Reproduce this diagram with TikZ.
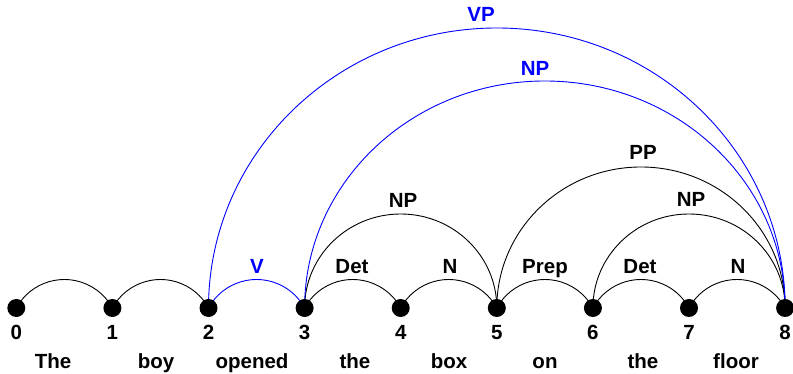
\documentclass[tikz,border=0pt]{standalone}
\usepackage{fontspec}
\setmainfont{Liberation Sans}
\definecolor{arcblue}{RGB}{0,0,255}
\tikzset{
  dotnode/.style={circle, fill=black, inner sep=0pt, minimum size=18pt},
  lbl/.style={font=\fontsize{20.5}{23}\selectfont\bfseries, anchor=base, inner sep=0pt},
  bluelbl/.style={lbl, text=arcblue},
  arcline/.style={draw=black, line width=0.9pt},
  bluearc/.style={draw=arcblue, line width=0.9pt},
  short/.style={start angle=151.35, end angle=28.65, radius=54.76}
}
\begin{document}
\begin{tikzpicture}[x=1pt,y=1pt]
\useasboundingbox (0,0) rectangle (793,374);
% positions
\foreach \i/\x in {0/16.3,1/112.4,2/208.5,3/304.6,4/400.7,5/496.8,6/592.9,7/689.0,8/785.1}
  \coordinate (p\i) at (\x,66);
% short arcs
\draw[arcline] (p0) arc[short];
\draw[arcline] (p1) arc[short];
\draw[bluearc] (p2) arc[short];
\draw[arcline] (p3) arc[short];
\draw[arcline] (p4) arc[short];
\draw[arcline] (p5) arc[short];
\draw[arcline] (p6) arc[short];
\draw[arcline] (p7) arc[short];
% longer arcs
\draw[arcline] (p3) arc[start angle=180, end angle=0, x radius=96.1, y radius=94];
\draw[arcline] (p6) arc[start angle=180, end angle=0, x radius=96.1, y radius=94];
\draw[arcline] (p5) arc[start angle=180, end angle=0, x radius=144.15, y radius=141];
\draw[bluearc] (p3) arc[start angle=180, end angle=0, x radius=240.25, y radius=227];
\draw[bluearc] (p2) arc[start angle=180, end angle=0, x radius=288.3, y radius=280];
% dots and numbers
\foreach \i in {0,...,8} {
  \node[dotnode] (n\i) at (p\i) {};
  \node[lbl] (d\i) at ([yshift=-32pt]p\i) {\i};
}
% words
\node[lbl] (w1) at (53,5) {The};
\node[lbl] (w2) at (156,5) {boy};
\node[lbl] (w3) at (252,5) {opened};
\node[lbl] (w4) at (355,5) {the};
\node[lbl] (w5) at (449,5) {box};
\node[lbl] (w6) at (545,5) {on};
\node[lbl] (w7) at (643,5) {the};
\node[lbl] (w8) at (736,5) {floor};
% arc labels
\node[bluelbl] (lV) at (257,100) {V};
\node[lbl] (lDet1) at (352,100) {Det};
\node[lbl] (lN1) at (450,100) {N};
\node[lbl] (lPrep) at (545,100) {Prep};
\node[lbl] (lDet2) at (640,100) {Det};
\node[lbl] (lN2) at (738,100) {N};
\node[lbl] (lNP1) at (403,166) {NP};
\node[lbl] (lNP2) at (691,167) {NP};
\node[lbl] (lPP) at (643,214) {PP};
\node[bluelbl] (lNP3) at (535,298) {NP};
\node[bluelbl] (lVP) at (481,352) {VP};
\end{tikzpicture}
\end{document}
